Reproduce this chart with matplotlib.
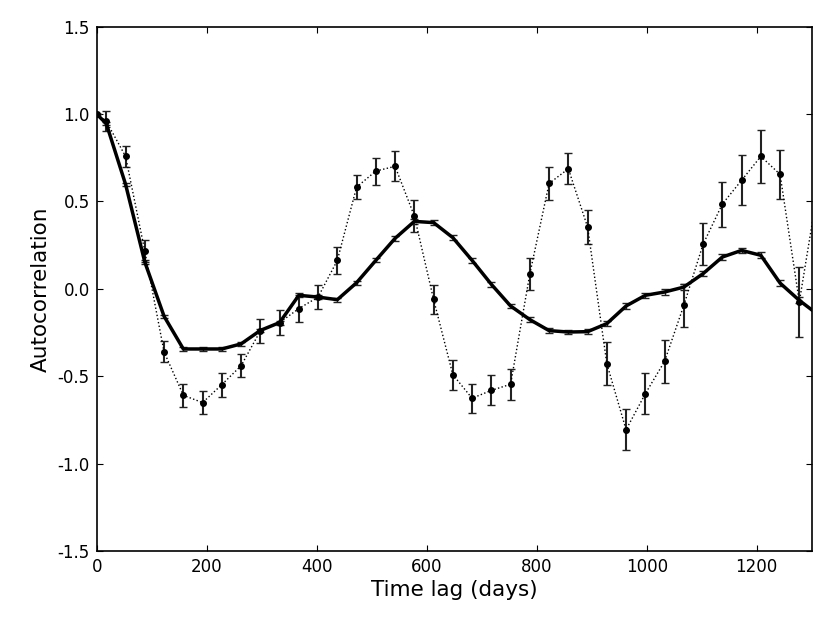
import matplotlib
matplotlib.use("Agg")
import matplotlib.pyplot as plt

# time lags (days): lag 0 then 35-day bin centres
lags = [0, 17.5, 52.5, 87.5, 122.5, 157.5, 192.5, 227.5, 262.5, 297.5, 332.5,
        367.5, 402.5, 437.5, 472.5, 507.5, 542.5, 577.5, 612.5, 647.5, 682.5,
        717.5, 752.5, 787.5, 822.5, 857.5, 892.5, 927.5, 962.5, 997.5, 1032.5,
        1067.5, 1102.5, 1137.5, 1172.5, 1207.5, 1242.5, 1277.5, 1312.5]

# dotted series (strongly oscillating)
acf_dot = [1.0, 0.958, 0.758, 0.215, -0.361, -0.609, -0.651, -0.548, -0.440,
           -0.241, -0.193, -0.113, -0.047, 0.163, 0.582, 0.674, 0.701, 0.417,
           -0.060, -0.491, -0.626, -0.581, -0.546, 0.085, 0.603, 0.687, 0.354,
           -0.428, -0.806, -0.600, -0.415, -0.094, 0.255, 0.485, 0.621, 0.758,
           0.655, -0.075, 0.60]
err_dot = [0.0, 0.057, 0.062, 0.062, 0.060, 0.065, 0.067, 0.069, 0.067, 0.071,
           0.070, 0.076, 0.071, 0.078, 0.070, 0.077, 0.086, 0.089, 0.082, 0.086,
           0.084, 0.086, 0.089, 0.090, 0.095, 0.088, 0.095, 0.122, 0.116, 0.118,
           0.122, 0.122, 0.119, 0.129, 0.143, 0.153, 0.141, 0.200, 0.200]

# solid series (smoother)
acf_sol = [1.0, 0.945, 0.598, 0.153, -0.157, -0.344, -0.344, -0.344, -0.315,
           -0.238, -0.193, -0.037, -0.047, -0.062, 0.035, 0.163, 0.289, 0.386,
           0.379, 0.293, 0.163, 0.026, -0.098, -0.176, -0.239, -0.247, -0.245,
           -0.199, -0.098, -0.037, -0.018, 0.010, 0.087, 0.182, 0.220, 0.192,
           0.033, -0.066, -0.15]
err_sol = [0.0, 0.010, 0.010, 0.010, 0.010, 0.010, 0.010, 0.010, 0.011, 0.011,
           0.011, 0.012, 0.012, 0.012, 0.012, 0.012, 0.013, 0.013, 0.013, 0.013,
           0.013, 0.013, 0.014, 0.014, 0.014, 0.014, 0.014, 0.015, 0.015, 0.015,
           0.015, 0.015, 0.015, 0.016, 0.016, 0.016, 0.016, 0.017, 0.017]

plt.rcParams['font.family'] = ['DejaVu Sans']
plt.rcParams['axes.unicode_minus'] = False
plt.rcParams['xtick.direction'] = 'in'
plt.rcParams['ytick.direction'] = 'in'
plt.rcParams['xtick.top'] = True
plt.rcParams['ytick.right'] = True

fig = plt.figure(figsize=(8.3, 6.23), dpi=100)
ax = fig.add_axes([96.7 / 830, 72 / 623, 715 / 830, 524.3 / 623])

ax.errorbar(lags, acf_dot, yerr=err_dot, fmt='o', ls=':', lw=1, color='k',
            ms=4, elinewidth=1.5, capsize=3, capthick=1, ecolor='#222222')
ax.errorbar(lags, acf_sol, yerr=err_sol, fmt='-', lw=2.5, color='k',
            elinewidth=1, capsize=3, capthick=1, ecolor='#222222')

ax.set_xlim(0, 1300)
ax.set_ylim(-1.5, 1.5)
ax.set_xticks([0, 200, 400, 600, 800, 1000, 1200])
ax.set_yticks([-1.5, -1.0, -0.5, 0.0, 0.5, 1.0, 1.5])
ax.tick_params(labelsize=12, length=4, width=0.8, pad=5)
for s in ax.spines.values():
    s.set_linewidth(1.2)

ax.set_xlabel('Time lag (days)', fontsize=15.5, labelpad=3)
ax.set_ylabel('Autocorrelation', fontsize=15.5, labelpad=5)

plt.savefig('out.png', dpi=100)
